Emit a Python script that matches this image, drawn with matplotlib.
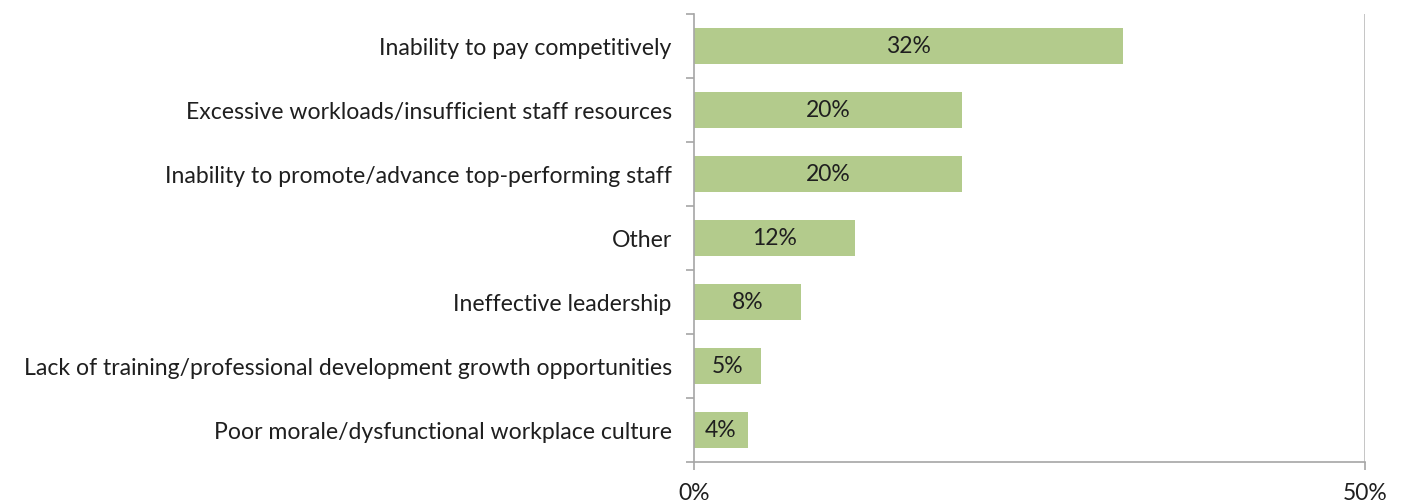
import matplotlib.pyplot as plt
import numpy as np

categories = [
    "Inability to pay competitively",
    "Excessive workloads/insufficient staff resources",
    "Inability to promote/advance top-performing staff",
    "Other",
    "Ineffective leadership",
    "Lack of training/professional development growth opportunities",
    "Poor morale/dysfunctional workplace culture",
]
values = [32, 20, 20, 12, 8, 5, 4]
x_ticks = [0, 50]
x_ticklabels = ["0%", "50%"]

plt.rcParams['font.family'] = ['Lato', 'DejaVu Sans']
txt = '#1f1f1f'
axis_grey = '#a6a6a6'
bar_green = '#b3cb8c'

fig = plt.figure(figsize=(14.02, 5.04), dpi=100)
ax = fig.add_axes([694 / 1402, 1 - 462 / 504, (1365 - 694) / 1402, (462 - 14) / 504])

n = len(categories)
pos = np.arange(n)
ax.barh(pos, values, height=0.57, color=bar_green, zorder=2)
for p, v in zip(pos, values):
    ax.text(v / 2, p, f"{v}%", ha='center', va='center', fontsize=16.5, color=txt, zorder=3)

ax.set_xlim(0, 50)
ax.set_ylim(n - 0.5, -0.5)

# category labels, with tick marks between categories
ax.set_yticks(pos)
ax.set_yticklabels(categories, fontsize=16.6, color=txt)
ax.set_yticks(np.arange(-0.5, n, 1), minor=True)
ax.tick_params(axis='y', which='major', length=0, pad=16)
ax.tick_params(axis='y', which='minor', length=6, width=1.2, color=axis_grey, direction='out')

ax.set_xticks(x_ticks)
ax.set_xticklabels(x_ticklabels, fontsize=16.5, color=txt)
ax.tick_params(axis='x', length=6, width=1.2, color=axis_grey, pad=9)

ax.axvline(50, color='#c0c0c0', lw=2, zorder=1)

for s in ['top', 'right']:
    ax.spines[s].set_visible(False)
for s in ['left', 'bottom']:
    ax.spines[s].set_color(axis_grey)
    ax.spines[s].set_linewidth(1.2)

fig.savefig('out.png', dpi=100)
